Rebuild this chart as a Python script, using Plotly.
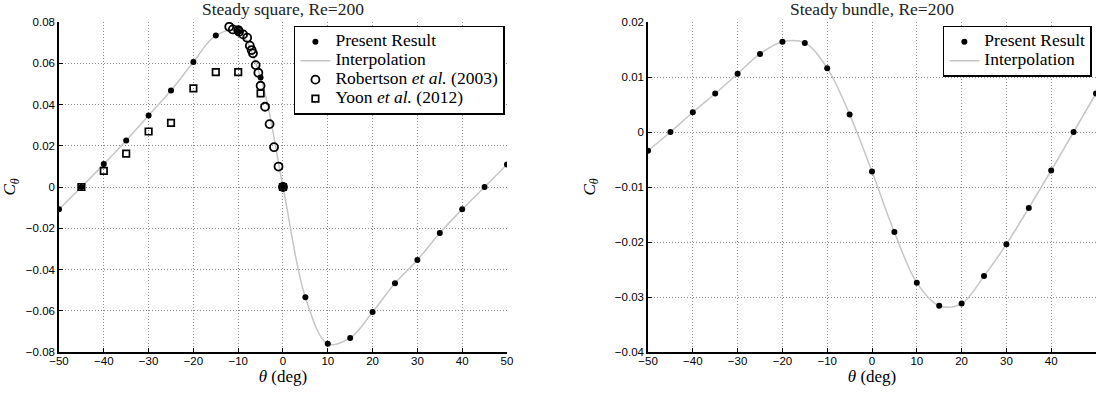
import plotly.graph_objects as go

# ---------------- data ----------------
theta = [-50, -45, -40, -35, -30, -25, -20, -15, -10, -5, 0,
         5, 10, 15, 20, 25, 30, 35, 40, 45, 50]

square_present = [-0.0108, 0.0, 0.0111, 0.0226, 0.0347, 0.0468, 0.0606, 0.0735, 0.0755, 0.0531, 0.0,
                  -0.0535, -0.0760, -0.0732, -0.0606, -0.0467, -0.0354, -0.0223, -0.0108, 0.0, 0.0109]

robertson_theta = [-12.0, -11.2, -10.0, -9.8, -8.9, -8.0, -7.4, -7.0, -6.7, -6.1,
                   -5.5, -5.0, -4.0, -3.0, -2.0, -1.0, 0.0]
robertson_c = [0.0777, 0.0764, 0.0761, 0.0753, 0.0740, 0.0724, 0.0685, 0.0664, 0.0648, 0.0591,
               0.0554, 0.0491, 0.0389, 0.0305, 0.0193, 0.0099, 0.0]

yoon_theta = [-45, -40, -35, -30, -25, -20, -15, -10, -5, 0]
yoon_c = [0.0, 0.0078, 0.0162, 0.0269, 0.0311, 0.0478, 0.0557, 0.0557, 0.0454, 0.0]

bundle_present = [-0.0034, 0.0, 0.0036, 0.0070, 0.0106, 0.0142, 0.0164, 0.0162, 0.0116, 0.0032, -0.0072,
                  -0.0182, -0.0274, -0.0316, -0.0312, -0.0262, -0.0204, -0.0138, -0.0070, 0.0, 0.0070]

x_ticks = [-50, -40, -30, -20, -10, 0, 10, 20, 30, 40, 50]
x_ticktext = ["\u221250", "\u221240", "\u221230", "\u221220", "\u221210", "0", "10", "20", "30", "40", "50"]
y1_ticks = [-0.08, -0.06, -0.04, -0.02, 0.0, 0.02, 0.04, 0.06, 0.08]
y1_ticktext = ["\u22120.08", "\u22120.06", "\u22120.04", "\u22120.02", "0", "0.02", "0.04", "0.06", "0.08"]
y2_ticks = [-0.04, -0.03, -0.02, -0.01, 0.0, 0.01, 0.02]
y2_ticktext = ["\u22120.04", "\u22120.03", "\u22120.02", "\u22120.01", "0", "0.01", "0.02"]

titles = ["Steady square, Re=200", "Steady bundle, Re=200"]
names = ["Present Result", "Interpolation", "Robertson <i>et al.</i> (2003)", "Yoon <i>et al.</i> (2012)"]

# ---------------- style ----------------
SERIF = "Liberation Serif, Times New Roman, serif"
SANS = "Liberation Sans, Arial, sans-serif"
GRAY_LINE = "#c6c6c6"


def lg(name):
    return '<span style="font-size:17.5px">' + name + '</span>'


fig = go.Figure()

# Left panel
fig.add_trace(go.Scatter(x=theta, y=square_present, mode="lines", name=lg(names[1]),
                         line=dict(color=GRAY_LINE, width=1.5, shape="spline", smoothing=1.0),
                         xaxis="x", yaxis="y", legend="legend", legendrank=2))
fig.add_trace(go.Scatter(x=robertson_theta, y=robertson_c, mode="markers", name=lg(names[2]),
                         marker=dict(symbol="circle-open", size=8, color="black", line=dict(width=1.8)),
                         xaxis="x", yaxis="y", legend="legend", legendrank=3))
fig.add_trace(go.Scatter(x=yoon_theta, y=yoon_c, mode="markers", name=lg(names[3]),
                         marker=dict(symbol="square-open", size=6.5, color="black", line=dict(width=1.7)),
                         xaxis="x", yaxis="y", legend="legend", legendrank=4))
fig.add_trace(go.Scatter(x=theta, y=square_present, mode="markers", name=lg(names[0]),
                         marker=dict(symbol="circle", size=6, color="black"),
                         xaxis="x", yaxis="y", legend="legend", legendrank=1))

# Right panel
fig.add_trace(go.Scatter(x=theta, y=bundle_present, mode="lines", name=lg(names[1]),
                         line=dict(color=GRAY_LINE, width=1.5, shape="spline", smoothing=1.0),
                         xaxis="x2", yaxis="y2", legend="legend2", legendrank=2))
fig.add_trace(go.Scatter(x=theta, y=bundle_present, mode="markers", name=lg(names[0]),
                         marker=dict(symbol="circle", size=6, color="black"),
                         xaxis="x2", yaxis="y2", legend="legend2", legendrank=1))

axis_common = dict(
    showline=True, linecolor="black", linewidth=1.5,
    ticks="inside", ticklen=4, tickwidth=1, tickcolor="black",
    showgrid=True, gridcolor="#8a8a8a", gridwidth=1, griddash="1px,2px",
    zeroline=False, mirror=False, automargin=False,
    tickfont=dict(family=SANS, size=11.5, color="black"),
)
xtitle = dict(text="<i>θ</i> (deg)", font=dict(family=SERIF, size=17, color="black"), standoff=0)
ytitle = dict(text="<i>C</i><sub><i>θ</i></sub>", font=dict(family=SERIF, size=17, color="black"))

legend_common = dict(xanchor="right", yanchor="top",
                     bgcolor="white", bordercolor="black", borderwidth=1.5,
                     font=dict(family=SERIF, size=10, color="black"),
                     tracegroupgap=0, itemwidth=30)

fig.update_layout(
    width=1099, height=394,
    margin=dict(l=59, r=3, t=22, b=42),
    paper_bgcolor="white", plot_bgcolor="white",
    showlegend=True,
    xaxis=dict(domain=[0.0, 0.432], range=[-50, 50], tickvals=x_ticks, ticktext=x_ticktext,
               title=xtitle, anchor="y", ticklabelstandoff=-3, **axis_common),
    yaxis=dict(domain=[0, 1], range=[-0.08, 0.08], tickvals=y1_ticks, ticktext=y1_ticktext,
               title=ytitle, anchor="x", **axis_common),
    xaxis2=dict(domain=[0.568, 1.0], range=[-50, 50], tickvals=x_ticks, ticktext=x_ticktext,
                title=xtitle, anchor="y2", ticklabelstandoff=-3, **axis_common),
    yaxis2=dict(domain=[0, 1], range=[-0.04, 0.02], tickvals=y2_ticks, ticktext=y2_ticktext,
                title=ytitle, anchor="x2", **axis_common),
    legend=dict(x=0.430, y=0.989, **legend_common),
    legend2=dict(x=0.996, y=0.989, **legend_common),
    annotations=[
        dict(text=titles[0], x=0.216, y=1, xref="paper", yref="paper", xanchor="center",
             yanchor="bottom", yshift=1, showarrow=False,
             font=dict(family=SERIF, size=17.5, color="#222")),
        dict(text=titles[1], x=0.784, y=1, xref="paper", yref="paper", xanchor="center",
             yanchor="bottom", yshift=1, showarrow=False,
             font=dict(family=SERIF, size=17.5, color="#222")),
    ],
)

fig.write_html("out.html", config={"displayModeBar": False},
               post_script="document.body.style.margin='0';")
